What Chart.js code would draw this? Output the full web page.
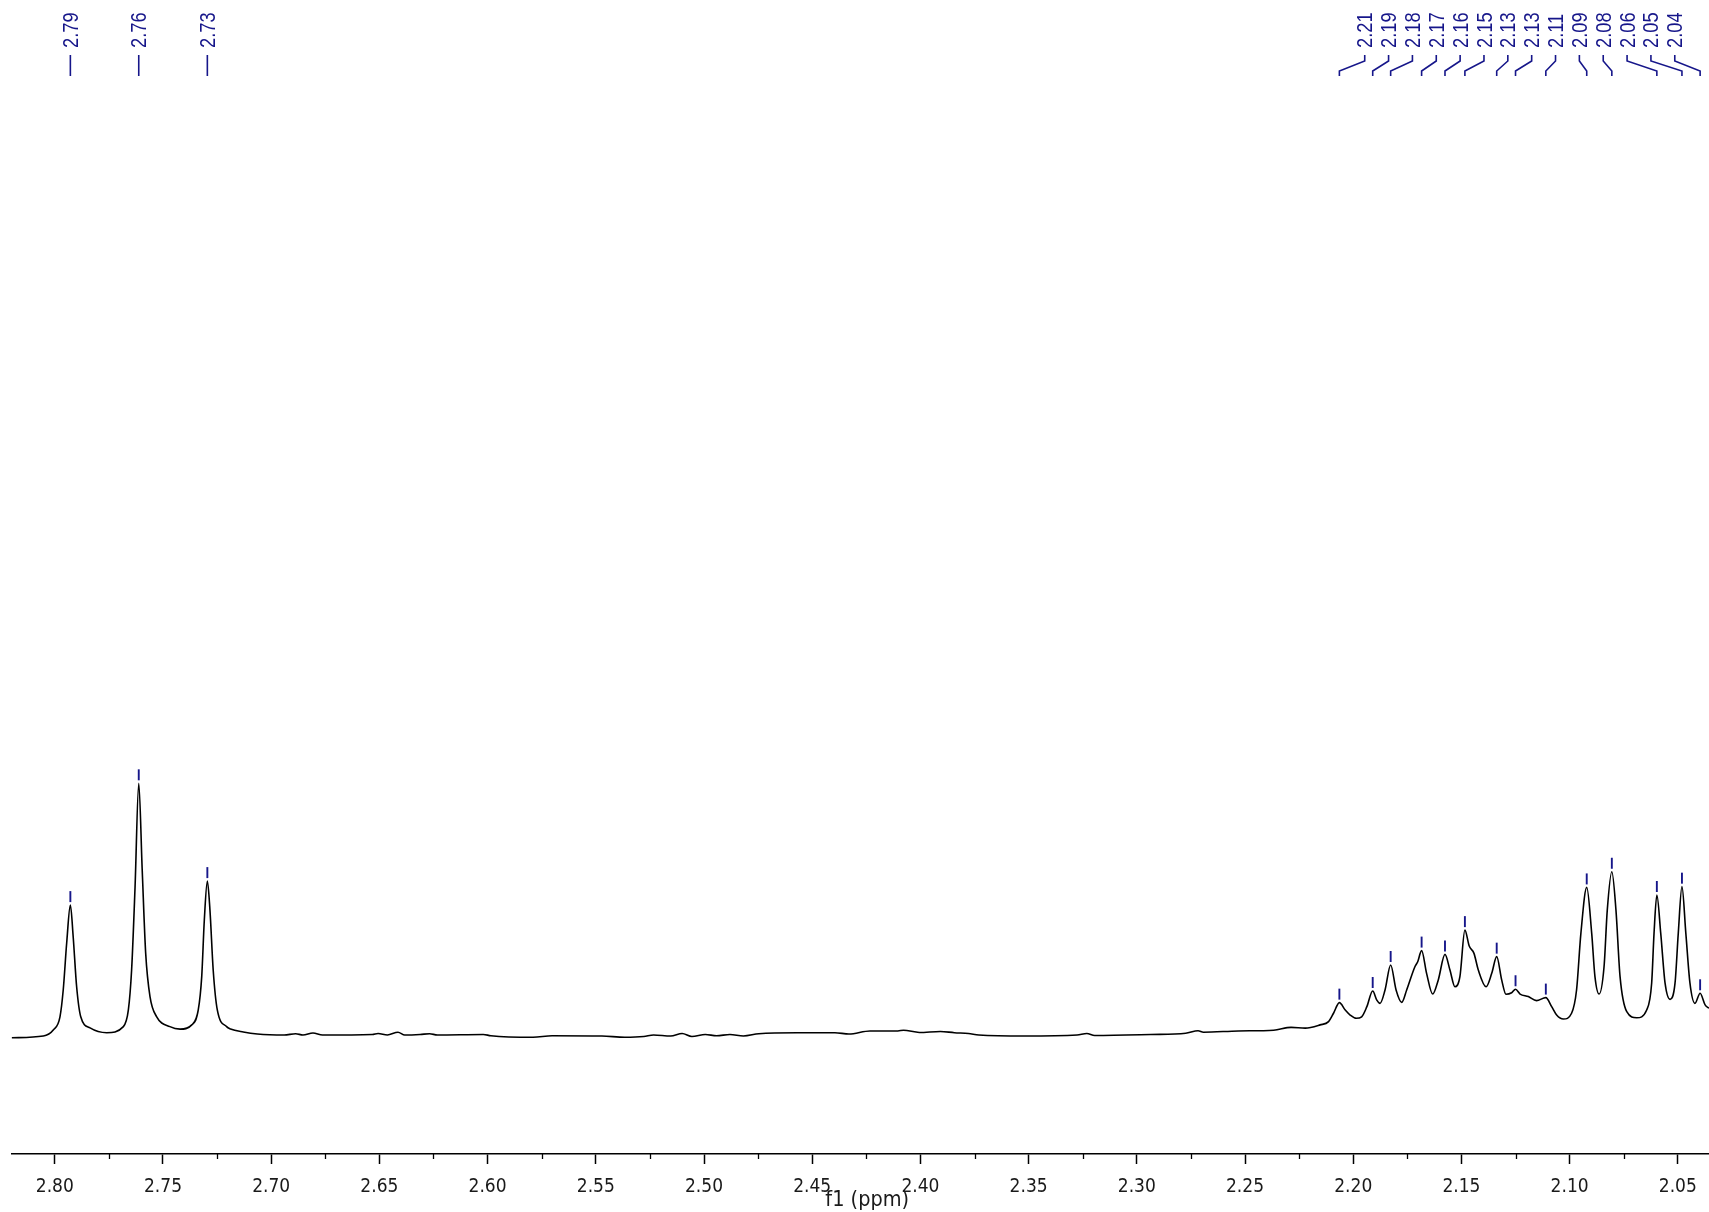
<!DOCTYPE html>
<html><head><meta charset="utf-8">
<script src="https://cdn.jsdelivr.net/npm/chart.js@4.4.0/dist/chart.umd.min.js"></script>
<style>html,body{margin:0;padding:0;background:#fff;overflow:hidden}
#wrap{position:relative;width:1709px;height:1212px}</style>
</head><body><div id="wrap"><canvas id="c" width="1709" height="1212"></canvas></div>
<script>
// Spectrum trace (chemical shift in ppm, relative intensity)
const spectrumPpm = [
 2.8199,2.8053,2.8007,2.7976,2.7961,2.7945,2.7928,2.7915,2.7899,2.7880,2.7837,2.7760,
 2.7683,2.7660,2.7645,2.7629,2.7612,2.7596,2.7580,2.7560,2.7529,2.7468,2.7421,
 2.7367,2.7337,2.7321,2.7309,2.7295,2.7283,2.7268,2.7249,2.7206,2.7188,2.7129,2.7064,
 2.6940,2.6887,2.6853,2.6807,2.6763,2.6533,2.6506,2.6463,2.6414,2.6383,2.6312,2.6268,2.6232,
 2.6020,2.5985,2.5790,2.5702,2.5472,2.5366,2.5278,2.5233,2.5154,2.5101,2.5056,2.4994,2.4942,
 2.4880,2.4818,2.4747,2.4570,2.4395,2.4330,2.4233,2.4104,2.4078,2.4005,2.3908,2.3843,2.3778,
 2.3730,2.3519,2.3276,2.3231,2.3195,2.2936,2.2774,2.2717,2.2692,2.2531,2.2368,2.2287,2.2222,
 2.2153,2.2114,2.2091,2.2064,2.2037,2.2014,2.1986,2.1961,2.1937,2.1910,2.1891,2.1876,2.1853,
 2.1827,2.1802,2.1776,2.1753,2.1715,2.1702,2.1684,2.1661,2.1633,2.1607,2.1576,2.1553,2.1530,
 2.1507,2.1484,2.1464,2.1442,2.1422,2.1386,2.1360,2.1337,2.1314,2.1294,2.1268,2.1250,2.1229,
 2.1191,2.1153,2.1110,2.1083,2.1060,2.1029,2.0991,2.0968,2.0948,2.0921,2.0898,2.0883,2.0864,
 2.0841,2.0826,2.0805,2.0786,2.0767,2.0736,2.0690,2.0644,2.0621,2.0610,2.0597,2.0579,2.0559,
 2.0536,2.0513,2.0498,2.0481,2.0463,2.0444,2.0421,2.0397,2.0374,2.0356
];
const spectrumIntensity = [
 -0.7,0.0,2.4,7.6,18.2,36.8,51.8,39.3,19.5,7.6,3.2,1.3,
 3.7,10.3,26.1,59.1,100,65.7,32.8,15.6,7.6,3.7,2.7,
 4.4,10.3,23.5,45.9,61.3,49.9,26.1,10.3,3.7,2.8,1.6,0.8,
 0.4,0.9,0.4,1.2,0.4,0.6,1.0,0.4,1.5,0.4,0.6,0.9,0.4,
 0.6,0.1,-0.5,0.1,0.0,-0.5,-0.2,0.4,0.0,1.0,-0.2,0.6,0.1,
 0.6,0.0,0.9,1.3,1.3,0.8,2.0,2.0,2.3,1.4,1.8,1.3,1.0,
 0.4,0.0,0.4,1.0,0.2,0.6,1.1,2.1,1.5,2.0,2.3,3.4,3.1,
 4.4,5.7,9.0,13.2,10.3,8.3,7.0,7.6,11.6,17.8,14.2,12.9,18.2,
 28.1,18.2,13.3,18.2,27.4,29.4,33.8,24.8,16.6,22.2,32.3,26.1,19.5,
 23.5,41.9,35.6,32.7,26.1,19.5,24.8,31.4,22.2,16.5,17.1,18.5,16.6,
 15.6,14.0,15.2,11.6,8.3,6.7,9.0,18.2,40.6,58.8,40.6,23.5,16.6,
 27.4,49.9,65.0,49.9,23.5,9.6,7.2,10.3,20.9,40.6,55.8,40.6,20.9,
 14.5,20.9,40.6,59.1,40.6,20.9,12.9,16.9,12.3,11.0
];
// Picked peaks and their labels
const peakPpm = [2.7928,2.7612,2.7295,2.2064,2.1910,2.1827,2.1684,2.1576,2.1484,2.1337,2.1250,2.1110,2.0921,2.0805,2.0597,2.0481,2.0397];
const peakLabels = ["2.79","2.76","2.73","2.21","2.19","2.18","2.17","2.16","2.15","2.13","2.13","2.11","2.09","2.08","2.06","2.05","2.04"];
// Axis ticks
const majorTicks = [2.80,2.75,2.70,2.65,2.60,2.55,2.50,2.45,2.40,2.35,2.30,2.25,2.20,2.15,2.10,2.05];
const minorTicks = [2.775,2.725,2.675,2.625,2.575,2.525,2.475,2.425,2.375,2.325,2.275,2.225,2.175,2.125,2.075];
const axisTitle = 'f1 (ppm)';

const BLUE = '#16168a';
const TICK_FONT = '"DejaVu Sans Condensed", "Liberation Sans", Arial, sans-serif';

const minorTickPlugin = {
  id: 'minorTicks',
  afterDraw(chart) {
    const xs = chart.scales.x, ctx = chart.ctx;
    ctx.save();
    ctx.strokeStyle = '#000'; ctx.lineWidth = 1.3;
    minorTicks.forEach(v => {
      const px = Math.round(xs.getPixelForValue(v)) + 0.5;
      ctx.beginPath(); ctx.moveTo(px, xs.top); ctx.lineTo(px, xs.top + 5); ctx.stroke();
    });
    // axis title, slightly right of the scale centre as in the original
    ctx.fillStyle = '#1a1a1a';
    ctx.font = '21.5px ' + TICK_FONT;
    ctx.textAlign = 'center'; ctx.textBaseline = 'middle';
    ctx.fillText(axisTitle, (xs.left + xs.right) / 2 + 7, xs.bottom - 12);
    ctx.restore();
  }
};

const peakLabelPlugin = {
  id: 'peakLabels',
  afterDraw(chart) {
    const xs = chart.scales.x, ys = chart.scales.y, ctx = chart.ctx;
    const peaks = peakPpm.map((p, i) => {
      let best = 0;
      spectrumPpm.forEach((q, j) => { if (Math.abs(q - p) < Math.abs(spectrumPpm[best] - p)) best = j; });
      return { ppm: p, px: xs.getPixelForValue(p), py: ys.getPixelForValue(spectrumIntensity[best]), label: peakLabels[i] };
    }).sort((a, b) => a.px - b.px);
    // group peaks that belong to one multiplet (closer than 0.025 ppm)
    const groups = [];
    peaks.forEach(pk => {
      const g = groups[groups.length - 1];
      if (g && Math.abs(g[g.length - 1].ppm - pk.ppm) < 0.025) g.push(pk); else groups.push([pk]);
    });
    const spacing = 23.85;
    groups.forEach(g => {
      const center = (g[0].px + g[g.length - 1].px) / 2;
      g.forEach((pk, k) => { pk.lx = g.length === 1 ? pk.px : center + (k - (g.length - 1) / 2) * spacing; });
    });
    ctx.save();
    ctx.strokeStyle = BLUE; ctx.fillStyle = BLUE;
    peaks.forEach(pk => {
      // marker above the peak top
      ctx.lineWidth = 1.9;
      ctx.beginPath(); ctx.moveTo(pk.px, pk.py - 3); ctx.lineTo(pk.px, pk.py - 14); ctx.stroke();
      // connector
      ctx.lineWidth = 1.6;
      ctx.beginPath();
      ctx.moveTo(pk.lx, 55); ctx.lineTo(pk.lx, 61); ctx.lineTo(pk.px, 71); ctx.lineTo(pk.px, 76);
      ctx.stroke();
      // label text
      ctx.save();
      ctx.translate(pk.lx + 1.5, 48);
      ctx.rotate(-Math.PI / 2);
      ctx.scale(0.83, 1);
      ctx.font = '22px "Liberation Sans", Arial, sans-serif';
      ctx.textAlign = 'left'; ctx.textBaseline = 'middle';
      ctx.fillText(pk.label, 0, 0);
      ctx.restore();
    });
    ctx.restore();
  }
};

new Chart(document.getElementById('c'), {
  type: 'line',
  data: { datasets: [{
    data: spectrumPpm.map((x, i) => ({ x: x, y: spectrumIntensity[i] })),
    borderColor: '#000', borderWidth: 1.6, pointRadius: 0, fill: false,
    cubicInterpolationMode: 'monotone'
  }] },
  options: {
    responsive: false, animation: false, devicePixelRatio: 1,
    layout: { padding: { left: 11.5, right: 0, top: 0, bottom: 0 } },
    plugins: { legend: { display: false }, tooltip: { enabled: false } },
    scales: {
      x: {
        type: 'linear', reverse: true, min: 2.0356, max: 2.82,
        afterBuildTicks: s => { s.ticks = majorTicks.map(v => ({ value: v })); },
        afterFit: s => { s.height = 58; },
        grid: { drawOnChartArea: false, drawTicks: true, tickLength: 10, tickColor: '#000', tickWidth: 1.5 },
        border: { display: true, color: '#000', width: 1.5 },
        ticks: { color: '#1a1a1a', font: { family: TICK_FONT, size: 19 }, padding: 12, maxRotation: 0, autoSkip: false,
                 callback: v => Number(v).toFixed(2) },
        title: { display: false }
      },
      y: { display: false, min: -46.7, max: 410 }
    }
  },
  plugins: [minorTickPlugin, peakLabelPlugin]
});
</script></body></html>
